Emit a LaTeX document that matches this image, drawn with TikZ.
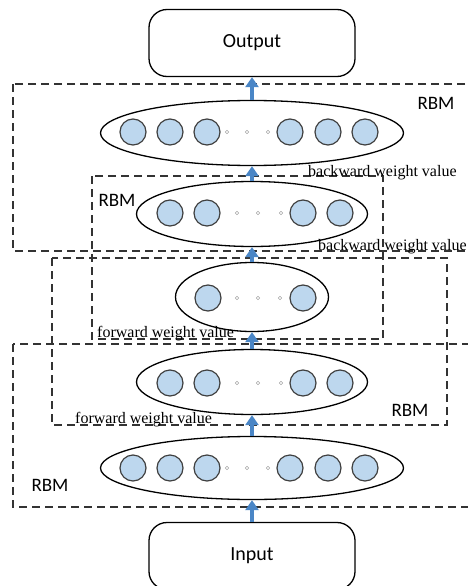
\documentclass[tikz,border=0pt]{standalone}
\usepackage{fontspec}
\setmainfont{Liberation Serif}
\setsansfont{Carlito}
\usetikzlibrary{arrows.meta,shapes.geometric}
\definecolor{unitblue}{RGB}{189,215,238}
\definecolor{arrowblue}{RGB}{74,134,198}
\tikzset{
  unit/.style={circle, draw=black!75, fill=unitblue, line width=1.2pt, minimum size=26pt, inner sep=0pt},
  gap/.style={circle, draw=black!35, inner sep=0pt, minimum size=3.5pt, line width=0.6pt},
  layer/.style={ellipse, draw, line width=1.3pt, inner sep=0pt},
  iobox/.style={draw, rounded corners=18pt, line width=1.3pt, minimum width=206pt, minimum height=67pt, font=\sffamily\fontsize{20}{24}\selectfont},
  dashbox/.style={dashed, dash pattern=on 8pt off 5pt, line width=1.2pt, black!80},
  rbm/.style={inner sep=0pt, font=\sffamily\fontsize{19}{22}\selectfont},
  weight/.style={inner sep=0pt, anchor=base west, font=\fontsize{16}{18}\selectfont},
  uparrow/.style={-{Triangle[width=13pt,length=10pt]}, line width=4.5pt, arrowblue}
}
\begin{document}
\begin{tikzpicture}[x=1pt, y=-1pt]
\useasboundingbox (0,0) rectangle (467,586);

% dashed RBM frames
  \draw[dashbox] (13,84) rectangle (475,251);
  \draw[dashbox] (92,176) rectangle (383,339);
  \draw[dashbox] (52,258) rectangle (447,425);
  \draw[dashbox] (13,344) rectangle (475,507);

  \node[rbm] (rbm1) at (436,103) {RBM};
  \node[rbm] (rbm2) at (117,200) {RBM};
  \node[rbm] (rbm3) at (410,410) {RBM};
  \node[rbm] (rbm4) at (50,485) {RBM};

  \node[weight] (bw1) at (308,176) {backward weight value};
  \node[weight] (bw2) at (318,250) {backward weight value};
  \node[weight] (fw1) at (97,337) {forward weight value};
  \node[weight] (fw2) at (75,423) {forward weight value};

\node[iobox] (out) at (252,43) {Output};
    \node[iobox] (in) at (252,556) {Input};

% layers
\node[layer, minimum width=303pt, minimum height=65pt] (l1) at (252,133) {};
  \node[layer, minimum width=231pt, minimum height=65pt] (l2) at (252,214) {};
  \node[layer, minimum width=153pt, minimum height=69pt] (l3) at (252,297) {};
  \node[layer, minimum width=231pt, minimum height=65pt] (l4) at (252,382) {};
\node[layer, minimum width=303pt, minimum height=63pt] (l5) at (252,468) {};

  \node[unit] (u11) at (133,132) {}; \node[unit] (u12) at (170,132) {}; \node[unit] (u13) at (207,132) {};
  \node[gap] (g11) at (227,132) {}; \node[gap] (g12) at (247,132) {}; \node[gap] (g13) at (268,132) {};
  \node[unit] (u14) at (290,132) {}; \node[unit] (u15) at (328,132) {}; \node[unit] (u16) at (365,132) {};

  \node[unit] (u21) at (170,213) {}; \node[unit] (u22) at (207,213) {};
  \node[gap] (g21) at (237,213) {}; \node[gap] (g22) at (258,213) {}; \node[gap] (g23) at (281,213) {};
  \node[unit] (u23) at (303,213) {}; \node[unit] (u24) at (340,213) {};

  \node[unit] (u31) at (208,298) {};
  \node[gap] (g31) at (237,298) {}; \node[gap] (g32) at (258,298) {}; \node[gap] (g33) at (280,298) {};
  \node[unit] (u32) at (303,298) {};

  \node[unit] (u41) at (170,383) {}; \node[unit] (u42) at (207,383) {};
  \node[gap] (g41) at (237,383) {}; \node[gap] (g42) at (258,383) {}; \node[gap] (g43) at (281,383) {};
  \node[unit] (u43) at (303,383) {}; \node[unit] (u44) at (340,383) {};

  \node[unit] (u51) at (133,468) {}; \node[unit] (u52) at (170,468) {}; \node[unit] (u53) at (207,468) {};
  \node[gap] (g51) at (227,468) {}; \node[gap] (g52) at (247,468) {}; \node[gap] (g53) at (268,468) {};
  \node[unit] (u54) at (290,468) {}; \node[unit] (u55) at (328,468) {}; \node[unit] (u56) at (365,468) {};

% upward arrows
   \draw[uparrow] (in.north) -- (l5.south);
   \draw[uparrow] (l5.north) -- (l4.south);
   \draw[uparrow] (l4.north) -- (l3.south);
   \draw[uparrow] (l3.north) -- (l2.south);
   \draw[uparrow] (l2.north) -- (l1.south);
   \draw[uparrow] (l1.north) -- (out.south);

\end{tikzpicture}
\end{document}
